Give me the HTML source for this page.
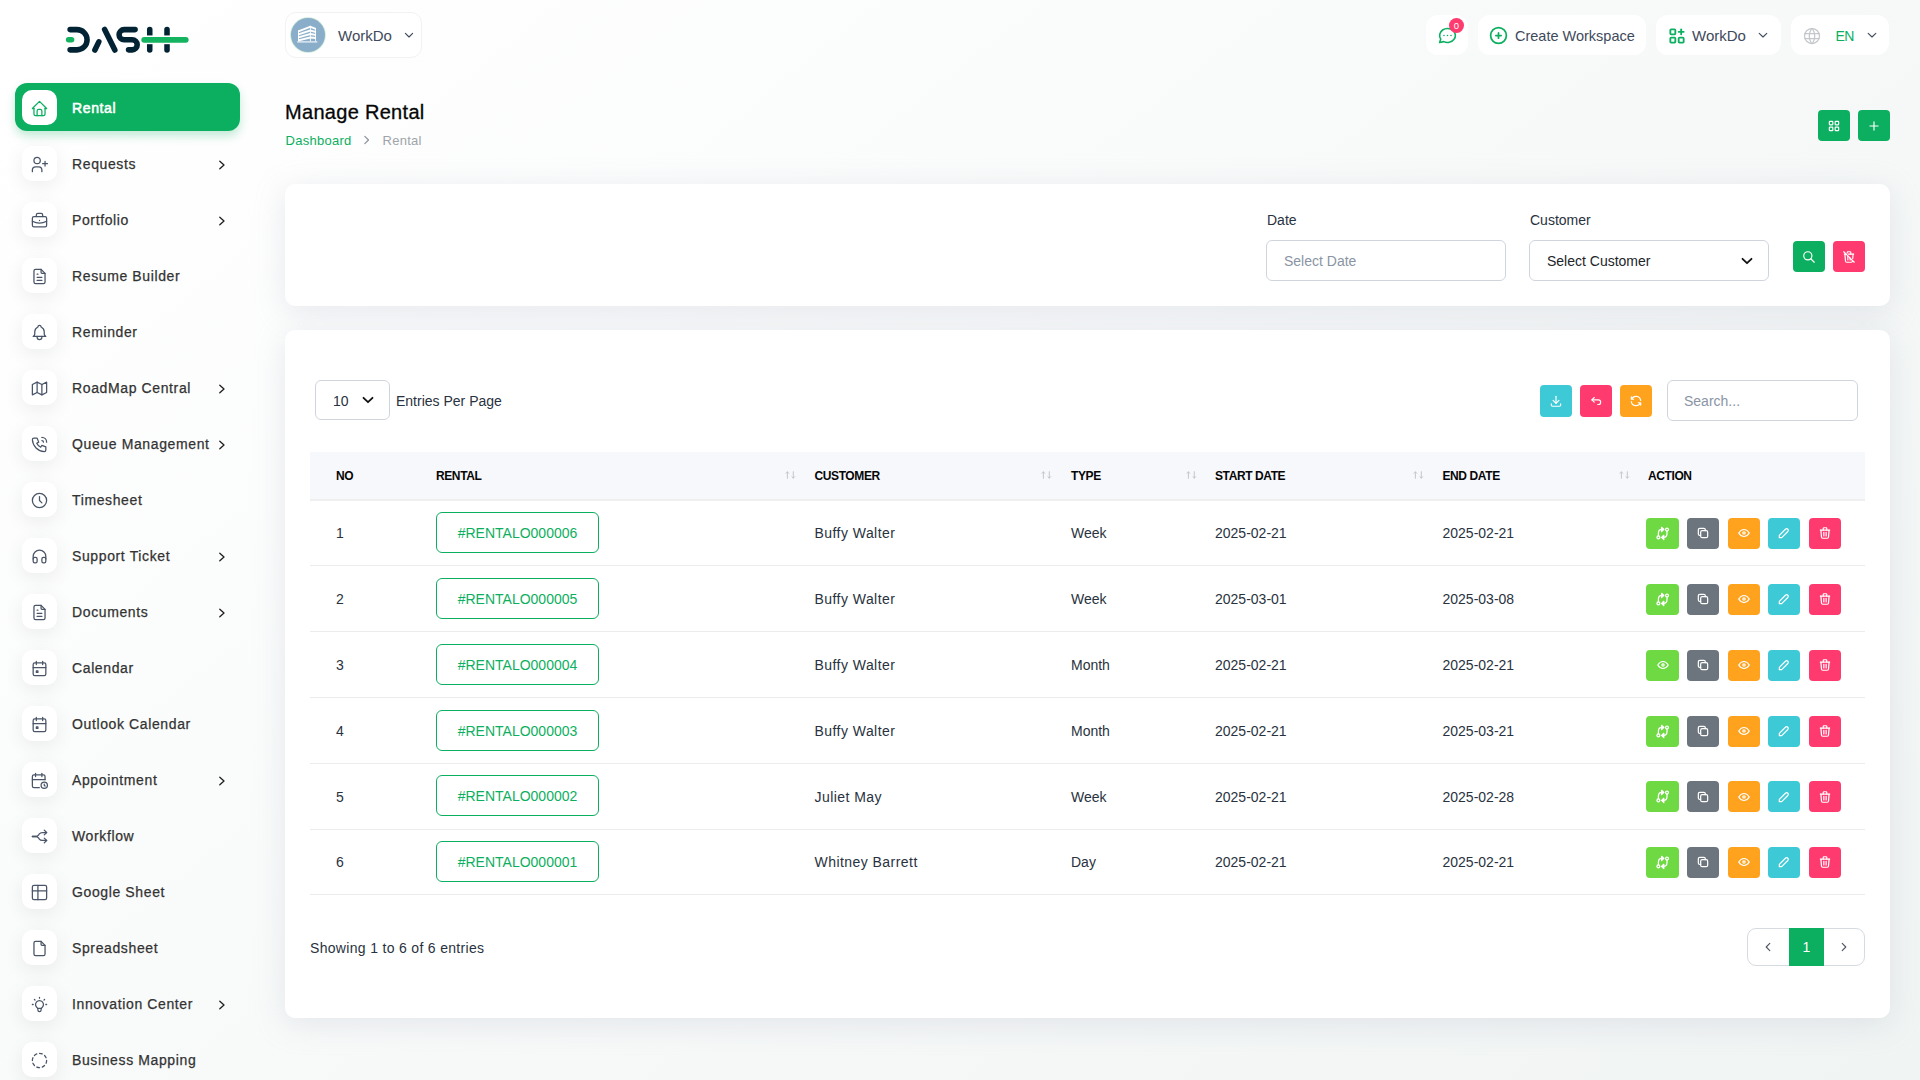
<!DOCTYPE html>
<html><head><meta charset="utf-8">
<style>
*{box-sizing:border-box;margin:0;padding:0}
html,body{width:1920px;height:1080px;overflow:hidden}
body{font-family:"Liberation Sans",sans-serif;position:relative;color:#293240;
background:linear-gradient(141.55deg,rgba(240,244,243,0) 3.46%,#f0f4f3 99.86%),#ffffff;}
.abs{position:absolute}
svg{overflow:visible}
svg.i{fill:none;stroke:currentColor;stroke-linecap:round;stroke-linejoin:round;display:block}
/* sidebar */
.nav{position:absolute;left:15px;width:225px;height:48px;border-radius:12px}
.nav.active{background:#0caf60;box-shadow:0 5px 10px rgba(12,175,96,0.25)}
.nav .ib{position:absolute;left:7px;top:7px;width:35px;height:35px;border-radius:10px;background:#fff;box-shadow:0 5px 20px rgba(0,0,0,0.07);color:#4a5568}
.nav.active .ib{box-shadow:none;color:#0caf60}
.nav .ib svg{position:absolute;left:8px;top:9.2px}
.nav .t{position:absolute;left:57px;top:1px;line-height:48px;font-size:14px;font-weight:400;color:#333;letter-spacing:0.62px;-webkit-text-stroke:0.25px #333;white-space:nowrap}
.nav.active .t{color:#fff;-webkit-text-stroke:0.55px #fff}
.nav .ch{position:absolute;left:201px;top:19px;color:#222}
/* top */
.tb{position:absolute;background:#fff;border-radius:12px;height:40px;top:15px}
.card{position:absolute;background:#fff;border-radius:10px;box-shadow:0 6px 30px rgba(182,186,203,0.3)}
.btn{position:absolute;width:32px;height:31px;border-radius:4px;color:#fff}
.btn svg{position:absolute;left:8px;top:7.5px}
.th{font-size:12px;line-height:12px;font-weight:700;color:#060606;letter-spacing:-0.4px;white-space:nowrap}
.td{font-size:14px;line-height:14px;color:#293240;white-space:nowrap}
.badge{width:163px;height:41px;border:1px solid #0caf60;border-radius:6px;color:#0caf60;font-size:14px;line-height:41px;text-align:center;background:#fff}
</style></head>
<body>
<!-- LOGO -->
<svg class="abs" style="left:60px;top:20px" width="140" height="40" viewBox="0 0 1920 549">
 <g fill="none" stroke-linecap="round" stroke-width="76">
  <path stroke="#022333" d="M138,132 H232 A139,139 0 0 1 232,410 H138"/>
  <path stroke="#022333" d="M532,300 L478,412"/>
  <path stroke="#022333" d="M612,130 L752,412"/>
  <path stroke="#022333" d="M1030,132 H880 A70,70 0 0 0 880,272 H990 A69,69 0 0 1 990,410 H940"/>
  <path stroke="#022333" d="M1231,132 V412 M1468,132 V412"/>
  <rect x="1180" y="212" width="340" height="120" fill="#fff" stroke="none"/>
  <path stroke="#13b35f" stroke-width="80" d="M1155,272 H1725"/>
  <path stroke="#13b35f" d="M118,272 H158"/>
 </g>
</svg>

<!-- SIDEBAR -->
<!--SB-->
<div class="nav active" style="top:83px"><div class="ib"><svg class="i" width="19" height="19" viewBox="0 0 24 24" stroke-width="1.6"><path d="M5 12l-2 0l9 -9l9 9l-2 0"/><path d="M5 12v7a2 2 0 0 0 2 2h10a2 2 0 0 0 2 -2v-7"/><path d="M9 21v-6a2 2 0 0 1 2 -2h2a2 2 0 0 1 2 2v6"/></svg></div><div class="t">Rental</div></div>
<div class="nav" style="top:139px"><div class="ib"><svg class="i" width="19" height="19" viewBox="0 0 24 24" stroke-width="1.6"><path d="M5 7a4 4 0 1 0 8 0a4 4 0 1 0 -8 0"/><path d="M3 21v-2a4 4 0 0 1 4 -4h4a4 4 0 0 1 4 4v2"/><path d="M16 11h6m-3 -3v6"/></svg></div><div class="t">Requests</div><svg class="ch i" width="12" height="14" viewBox="0 0 12 14" stroke-width="1.35"><path d="M3.8 3.2L8 7L3.8 10.8"/></svg></div>
<div class="nav" style="top:195px"><div class="ib"><svg class="i" width="19" height="19" viewBox="0 0 24 24" stroke-width="1.6"><path d="M3 9a2 2 0 0 1 2 -2h14a2 2 0 0 1 2 2v9a2 2 0 0 1 -2 2h-14a2 2 0 0 1 -2 -2z"/><path d="M8 7v-2a2 2 0 0 1 2 -2h4a2 2 0 0 1 2 2v2"/><path d="M12 12l0 .01"/><path d="M3 13a20 20 0 0 0 18 0"/></svg></div><div class="t">Portfolio</div><svg class="ch i" width="12" height="14" viewBox="0 0 12 14" stroke-width="1.35"><path d="M3.8 3.2L8 7L3.8 10.8"/></svg></div>
<div class="nav" style="top:251px"><div class="ib"><svg class="i" width="19" height="19" viewBox="0 0 24 24" stroke-width="1.6"><path d="M14 3v4a1 1 0 0 0 1 1h4"/><path d="M17 21h-10a2 2 0 0 1 -2 -2v-14a2 2 0 0 1 2 -2h7l5 5v11a2 2 0 0 1 -2 2z"/><path d="M9 9l1 0"/><path d="M9 13l6 0"/><path d="M9 17l6 0"/></svg></div><div class="t">Resume Builder</div></div>
<div class="nav" style="top:307px"><div class="ib"><svg class="i" width="19" height="19" viewBox="0 0 24 24" stroke-width="1.6"><path d="M10 5a2 2 0 1 1 4 0a7 7 0 0 1 4 6v3a4 4 0 0 0 2 3h-16a4 4 0 0 0 2 -3v-3a7 7 0 0 1 4 -6"/><path d="M9 17v1a3 3 0 0 0 6 0v-1"/></svg></div><div class="t">Reminder</div></div>
<div class="nav" style="top:363px"><div class="ib"><svg class="i" width="19" height="19" viewBox="0 0 24 24" stroke-width="1.6"><path d="M3 7l6 -3l6 3l6 -3v13l-6 3l-6 -3l-6 3v-13"/><path d="M9 4v13"/><path d="M15 7v13"/></svg></div><div class="t">RoadMap Central</div><svg class="ch i" width="12" height="14" viewBox="0 0 12 14" stroke-width="1.35"><path d="M3.8 3.2L8 7L3.8 10.8"/></svg></div>
<div class="nav" style="top:419px"><div class="ib"><svg class="i" width="19" height="19" viewBox="0 0 24 24" stroke-width="1.6"><path d="M5 4h4l2 5l-2.5 1.5a11 11 0 0 0 5 5l1.5 -2.5l5 2v4a2 2 0 0 1 -2 2a16 16 0 0 1 -15 -15a2 2 0 0 1 2 -2"/><path d="M15 7a2 2 0 0 1 2 2"/><path d="M15 3a6 6 0 0 1 6 6"/></svg></div><div class="t">Queue Management</div><svg class="ch i" width="12" height="14" viewBox="0 0 12 14" stroke-width="1.35"><path d="M3.8 3.2L8 7L3.8 10.8"/></svg></div>
<div class="nav" style="top:475px"><div class="ib"><svg class="i" width="19" height="19" viewBox="0 0 24 24" stroke-width="1.6"><path d="M3 12a9 9 0 1 0 18 0a9 9 0 0 0 -18 0"/><path d="M12 7v5l3 3"/></svg></div><div class="t">Timesheet</div></div>
<div class="nav" style="top:531px"><div class="ib"><svg class="i" width="19" height="19" viewBox="0 0 24 24" stroke-width="1.6"><path d="M4 15a2 2 0 0 1 2 -2h1a2 2 0 0 1 2 2v3a2 2 0 0 1 -2 2h-1a2 2 0 0 1 -2 -2z"/><path d="M15 15a2 2 0 0 1 2 -2h1a2 2 0 0 1 2 2v3a2 2 0 0 1 -2 2h-1a2 2 0 0 1 -2 -2z"/><path d="M4 15v-3a8 8 0 0 1 16 0v3"/></svg></div><div class="t">Support Ticket</div><svg class="ch i" width="12" height="14" viewBox="0 0 12 14" stroke-width="1.35"><path d="M3.8 3.2L8 7L3.8 10.8"/></svg></div>
<div class="nav" style="top:587px"><div class="ib"><svg class="i" width="19" height="19" viewBox="0 0 24 24" stroke-width="1.6"><path d="M14 3v4a1 1 0 0 0 1 1h4"/><path d="M17 21h-10a2 2 0 0 1 -2 -2v-14a2 2 0 0 1 2 -2h7l5 5v11a2 2 0 0 1 -2 2z"/><path d="M9 9l1 0"/><path d="M9 13l6 0"/><path d="M9 17l6 0"/></svg></div><div class="t">Documents</div><svg class="ch i" width="12" height="14" viewBox="0 0 12 14" stroke-width="1.35"><path d="M3.8 3.2L8 7L3.8 10.8"/></svg></div>
<div class="nav" style="top:643px"><div class="ib"><svg class="i" width="19" height="19" viewBox="0 0 24 24" stroke-width="1.6"><path d="M4 7a2 2 0 0 1 2 -2h12a2 2 0 0 1 2 2v12a2 2 0 0 1 -2 2h-12a2 2 0 0 1 -2 -2z"/><path d="M16 3l0 4"/><path d="M8 3l0 4"/><path d="M4 11l16 0"/><path d="M8 15h2v2h-2z"/></svg></div><div class="t">Calendar</div></div>
<div class="nav" style="top:699px"><div class="ib"><svg class="i" width="19" height="19" viewBox="0 0 24 24" stroke-width="1.6"><path d="M4 7a2 2 0 0 1 2 -2h12a2 2 0 0 1 2 2v12a2 2 0 0 1 -2 2h-12a2 2 0 0 1 -2 -2z"/><path d="M16 3l0 4"/><path d="M8 3l0 4"/><path d="M4 11l16 0"/><path d="M8 15h2v2h-2z"/></svg></div><div class="t">Outlook Calendar</div></div>
<div class="nav" style="top:755px"><div class="ib"><svg class="i" width="19" height="19" viewBox="0 0 24 24" stroke-width="1.6"><path d="M11.795 21h-6.795a2 2 0 0 1 -2 -2v-12a2 2 0 0 1 2 -2h12a2 2 0 0 1 2 2v4"/><path d="M14 18a4 4 0 1 0 8 0a4 4 0 1 0 -8 0"/><path d="M15 3v4"/><path d="M7 3v4"/><path d="M3 11h16"/><path d="M18 16.496v1.504l1 1"/></svg></div><div class="t">Appointment</div><svg class="ch i" width="12" height="14" viewBox="0 0 12 14" stroke-width="1.35"><path d="M3.8 3.2L8 7L3.8 10.8"/></svg></div>
<div class="nav" style="top:811px"><div class="ib"><svg class="i" width="19" height="19" viewBox="0 0 24 24" stroke-width="1.6"><path d="M21 17h-5.397a5 5 0 0 1 -4.096 -2.133l-.514 -.734a5 5 0 0 0 -4.096 -2.133h-3.897"/><path d="M21 7h-5.395a5 5 0 0 0 -4.098 2.135l-.51 .73a5 5 0 0 1 -4.097 2.135h-3.9"/><path d="M18 10l3 -3l-3 -3"/><path d="M18 20l3 -3l-3 -3"/></svg></div><div class="t">Workflow</div></div>
<div class="nav" style="top:867px"><div class="ib"><svg class="i" width="19" height="19" viewBox="0 0 24 24" stroke-width="1.6"><path d="M3 5a2 2 0 0 1 2 -2h14a2 2 0 0 1 2 2v14a2 2 0 0 1 -2 2h-14a2 2 0 0 1 -2 -2v-14z"/><path d="M3 10h18"/><path d="M10 3v18"/></svg></div><div class="t">Google Sheet</div></div>
<div class="nav" style="top:923px"><div class="ib"><svg class="i" width="19" height="19" viewBox="0 0 24 24" stroke-width="1.6"><path d="M14 3v4a1 1 0 0 0 1 1h4"/><path d="M17 21h-10a2 2 0 0 1 -2 -2v-14a2 2 0 0 1 2 -2h7l5 5v11a2 2 0 0 1 -2 2z"/></svg></div><div class="t">Spreadsheet</div></div>
<div class="nav" style="top:979px"><div class="ib"><svg class="i" width="19" height="19" viewBox="0 0 24 24" stroke-width="1.6"><path d="M3 12h1m8 -9v1m8 8h1m-15.4 -6.4l.7 .7m12.1 -.7l-.7 .7"/><path d="M9 16a5 5 0 1 1 6 0a3.5 3.5 0 0 0 -1 3a2 2 0 0 1 -4 0a3.5 3.5 0 0 0 -1 -3"/><path d="M9.7 17l4.6 0"/></svg></div><div class="t">Innovation Center</div><svg class="ch i" width="12" height="14" viewBox="0 0 12 14" stroke-width="1.35"><path d="M3.8 3.2L8 7L3.8 10.8"/></svg></div>
<div class="nav" style="top:1035px"><div class="ib"><svg class="i" width="19" height="19" viewBox="0 0 24 24" stroke-width="1.6"><path d="M8.56 3.69a9 9 0 0 0 -2.92 1.95"/><path d="M3.69 8.56a9 9 0 0 0 -.69 3.44"/><path d="M3.69 15.44a9 9 0 0 0 1.95 2.92"/><path d="M8.56 20.31a9 9 0 0 0 3.44 .69"/><path d="M15.44 20.31a9 9 0 0 0 2.92 -1.95"/><path d="M20.31 15.44a9 9 0 0 0 .69 -3.44"/><path d="M20.31 8.56a9 9 0 0 0 -1.95 -2.92"/><path d="M15.44 3.69a9 9 0 0 0 -3.44 -.69"/></svg></div><div class="t">Business Mapping</div></div>
<!--/SB-->

<!-- TOP BAR -->
<div class="abs" style="left:285px;top:12px;width:137px;height:46px;background:#fff;border:1px solid #f1f2f3;border-radius:11px"></div>
<div class="abs" style="left:291px;top:18px;width:34px;height:34px;border-radius:50%;background:#8aaec9;box-shadow:0 0 0 0.8px #c9ead7"></div>
<svg class="abs" style="left:296px;top:24px" width="24" height="20" viewBox="0 0 24 20"><g fill="#fff"><path d="M2 6.5 L14.3 1.8 L14.3 3.8 L2 8.5Z"/><path d="M14.3 1.8 L20 4.1 L20 6.1 L14.3 3.8Z"/><path d="M2 9.5 L14.3 5.4 L14.3 7.4 L2 11.5Z"/><path d="M14.3 5.4 L20 7.1 L20 9.1 L14.3 7.4Z"/><path d="M2 12.5 L14.3 9.0 L14.3 11.0 L2 14.5Z"/><path d="M14.3 9.0 L20 10.1 L20 12.1 L14.3 11.0Z"/><path d="M2 15.5 L14.3 12.6 L14.3 14.6 L2 17.5Z"/><path d="M14.3 12.6 L20 13.1 L20 15.1 L14.3 14.6Z"/><rect x="13.9" y="1.8" width="0.9" height="15.4"/><rect x="2" y="6.5" width="0.9" height="10.7"/><rect x="19.2" y="4.1" width="0.8" height="13.1"/><rect x="1.2" y="17.2" width="20.1" height="1.4" opacity=".75"/></g></svg>
<div class="abs" style="left:338px;top:27px;font-size:15px;line-height:18px;color:#3e4a5b">WorkDo</div>
<svg class="abs i" style="left:403px;top:29px;color:#3e4a5b" width="12" height="12" viewBox="0 0 12 12" stroke-width="1.15"><path d="M2.4 4.3L6 8L9.6 4.3"/></svg>

<div class="tb" style="left:1426px;width:42px"></div>
<svg class="abs i" style="left:1436.5px;top:25px;color:#0caf60" width="21" height="21" viewBox="0 0 24 24" stroke-width="1.8"><path d="M3 20l1.3 -3.9c-2.324 -3.437 -1.426 -7.872 2.1 -10.374c3.526 -2.501 8.59 -2.296 11.845 .48c3.255 2.777 3.695 7.266 1.029 10.501c-2.666 3.235 -7.615 4.215 -11.574 2.293l-4.7 1"/><path d="M12 12l0 .01"/><path d="M8 12l0 .01"/><path d="M16 12l0 .01"/></svg>
<div class="abs" style="left:1449px;top:17.5px;width:15px;height:15px;border-radius:50%;background:#ff3a6e;color:#fff;font-size:9.5px;line-height:15px;text-align:center">0</div>

<div class="tb" style="left:1478px;width:168px"></div>
<svg class="abs i" style="left:1488px;top:25px;color:#0caf60" width="21" height="21" viewBox="0 0 24 24" stroke-width="2"><path d="M3 12a9 9 0 1 0 18 0a9 9 0 0 0 -18 0"/><path d="M9 12h6"/><path d="M12 9v6"/></svg>
<div class="abs" style="left:1515px;top:27.3px;font-size:14.5px;line-height:18px;color:#3e4a5b">Create Workspace</div>

<div class="tb" style="left:1656px;width:125px"></div>
<svg class="abs i" style="left:1667px;top:26px;color:#0caf60" width="20" height="20" viewBox="0 0 24 24" stroke-width="2.2"><path d="M4 5a1 1 0 0 1 1 -1h4a1 1 0 0 1 1 1v4a1 1 0 0 1 -1 1h-4a1 1 0 0 1 -1 -1z"/><path d="M4 15a1 1 0 0 1 1 -1h4a1 1 0 0 1 1 1v4a1 1 0 0 1 -1 1h-4a1 1 0 0 1 -1 -1z"/><path d="M14 15a1 1 0 0 1 1 -1h4a1 1 0 0 1 1 1v4a1 1 0 0 1 -1 1h-4a1 1 0 0 1 -1 -1z"/><path d="M14 7l6 0"/><path d="M17 4l0 6"/></svg>
<div class="abs" style="left:1692px;top:27px;font-size:15px;line-height:18px;color:#3e4a5b">WorkDo</div>
<svg class="abs i" style="left:1757px;top:29px;color:#3e4a5b" width="12" height="12" viewBox="0 0 12 12" stroke-width="1.1"><path d="M2.2 4.3L6 8L9.8 4.3"/></svg>

<div class="tb" style="left:1791px;width:98px"></div>
<svg class="abs i" style="left:1802px;top:25.5px;color:#c4c7cc" width="20" height="20" viewBox="0 0 24 24" stroke-width="1.5"><path d="M3 12a9 9 0 1 0 18 0a9 9 0 0 0 -18 0"/><path d="M3.6 9h16.8"/><path d="M3.6 15h16.8"/><path d="M11.5 3a17 17 0 0 0 0 18"/><path d="M12.5 3a17 17 0 0 1 0 18"/></svg>
<div class="abs" style="left:1835.5px;top:26.8px;font-size:14px;line-height:18px;color:#0caf60;letter-spacing:-0.6px">EN</div>
<svg class="abs i" style="left:1865.5px;top:29px;color:#3e4a5b" width="12" height="12" viewBox="0 0 12 12" stroke-width="1.1"><path d="M2.2 4.3L6 8L9.8 4.3"/></svg>

<!-- PAGE HEADER -->
<div class="abs" style="left:285px;top:101.8px;font-size:20px;line-height:20px;color:#060606;letter-spacing:0.3px;-webkit-text-stroke:0.3px #060606;white-space:nowrap">Manage Rental</div>
<div class="abs" style="left:285.5px;top:133.6px;font-size:13px;line-height:13px;color:#0caf60;letter-spacing:0.27px">Dashboard</div>
<svg class="abs i" style="left:361px;top:134px;color:#8a929c" width="12" height="12" viewBox="0 0 12 12" stroke-width="1.2"><path d="M3.8 2.3L7.5 6L3.8 9.7"/></svg>
<div class="abs" style="left:382.5px;top:133.6px;font-size:13px;line-height:13px;color:#a0a4aa;letter-spacing:0.27px">Rental</div>
<div class="btn" style="left:1818px;top:110px;background:#0caf60"><svg class="i" style="left:9px;top:8.5px" width="14" height="14" viewBox="0 0 24 24" stroke-width="2"><path d="M4 5a1 1 0 0 1 1 -1h4a1 1 0 0 1 1 1v4a1 1 0 0 1 -1 1h-4a1 1 0 0 1 -1 -1z"/><path d="M14 5a1 1 0 0 1 1 -1h4a1 1 0 0 1 1 1v4a1 1 0 0 1 -1 1h-4a1 1 0 0 1 -1 -1z"/><path d="M4 15a1 1 0 0 1 1 -1h4a1 1 0 0 1 1 1v4a1 1 0 0 1 -1 1h-4a1 1 0 0 1 -1 -1z"/><path d="M14 15a1 1 0 0 1 1 -1h4a1 1 0 0 1 1 1v4a1 1 0 0 1 -1 1h-4a1 1 0 0 1 -1 -1z"/></svg></div>
<div class="btn" style="left:1858px;top:110px;background:#0caf60"><svg class="i" style="left:9px;top:8.5px" width="14" height="14" viewBox="0 0 24 24" stroke-width="2"><path d="M12 5l0 14"/><path d="M5 12l14 0"/></svg></div>

<!-- FILTER CARD -->
<div class="card" style="left:285px;top:184px;width:1605px;height:122px"></div>
<div class="abs" style="left:1267px;top:212.8px;font-size:14px;line-height:14px;color:#293240">Date</div>
<div class="abs" style="left:1266px;top:240px;width:240px;height:41px;border:1px solid #d0d5dd;border-radius:6px;background:#fff"></div>
<div class="abs" style="left:1284px;top:254.2px;font-size:14px;line-height:14px;color:#8a94a4">Select Date</div>
<div class="abs" style="left:1530px;top:212.8px;font-size:14px;line-height:14px;color:#293240">Customer</div>
<div class="abs" style="left:1529px;top:240px;width:240px;height:41px;border:1px solid #d0d5dd;border-radius:6px;background:#fff"></div>
<div class="abs" style="left:1547px;top:254.2px;font-size:14px;line-height:14px;color:#212529">Select Customer</div>
<svg class="abs i" style="left:1740px;top:254px;color:#111" width="14" height="14" viewBox="0 0 14 14" stroke-width="1.8"><path d="M2.5 4.8L7 9.2L11.5 4.8"/></svg>
<div class="btn" style="left:1793px;top:241px;background:#0caf60"><svg class="i" style="left:9px;top:8.5px" width="14" height="14" viewBox="0 0 24 24" stroke-width="2"><path d="M3 10a7 7 0 1 0 14 0a7 7 0 1 0 -14 0"/><path d="M21 21l-6 -6"/></svg></div>
<div class="btn" style="left:1833px;top:241px;background:#ff3a6e"><svg class="i" style="left:9px;top:8.5px" width="14" height="14" viewBox="0 0 24 24" stroke-width="2"><path d="M3 3l18 18"/><path d="M4 7h3m4 0h9"/><path d="M10 11l0 6"/><path d="M14 14l0 3"/><path d="M5 7l1 12a2 2 0 0 0 2 2h8a2 2 0 0 0 2 -2l.077 -.923"/><path d="M18.384 14.373l.616 -7.373"/><path d="M9 5v-1a1 1 0 0 1 1 -1h4a1 1 0 0 1 1 1v3"/></svg></div>

<!-- MAIN CARD -->
<!--MAIN-->
<div class="card" style="left:285px;top:330px;width:1605px;height:688px"></div>
<div class="abs" style="left:315px;top:380px;width:75px;height:40px;border:1px solid #d0d5dd;border-radius:6px;background:#fff"></div>
<div class="abs" style="left:333px;top:394.2px;font-size:14px;line-height:14px;color:#293240">10</div>
<svg class="abs i" style="left:361px;top:393px;color:#111" width="14" height="14" viewBox="0 0 14 14" stroke-width="1.8"><path d="M2.5 4.8L7 9.2L11.5 4.8"/></svg>
<div class="abs" style="left:396px;top:394.2px;font-size:14px;line-height:14px;color:#293240">Entries Per Page</div>
<div class="btn" style="left:1540px;top:385px;height:32px;background:#3ec9d6"><svg class="i" style="left:9px;top:9px" width="14" height="14" viewBox="0 0 24 24" stroke-width="2"><path d="M4 17v2a2 2 0 0 0 2 2h12a2 2 0 0 0 2 -2v-2"/><path d="M7 11l5 5l5 -5"/><path d="M12 4l0 12"/></svg></div>
<div class="btn" style="left:1580px;top:385px;height:32px;background:#ff3a6e"><svg class="i" style="left:9px;top:9px" width="14" height="14" viewBox="0 0 24 24" stroke-width="2"><path d="M9 14l-4 -4l4 -4"/><path d="M5 10h11a4 4 0 1 1 0 8h-1"/></svg></div>
<div class="btn" style="left:1620px;top:385px;height:32px;background:#ffa21d"><svg class="i" style="left:9px;top:9px" width="14" height="14" viewBox="0 0 24 24" stroke-width="2"><path d="M20 11a8.1 8.1 0 0 0 -15.5 -2m-.5 -4v4h4"/><path d="M4 13a8.1 8.1 0 0 0 15.5 2m.5 4v-4h-4"/></svg></div>
<div class="abs" style="left:1667px;top:380px;width:191px;height:41px;border:1px solid #d0d5dd;border-radius:6px;background:#fff"></div>
<div class="abs" style="left:1684px;top:394.2px;font-size:14px;line-height:14px;color:#8a94a4">Search...</div>
<div class="abs" style="left:310px;top:452px;width:1555px;height:49px;background:#f7f8fc;border-bottom:2px solid #efefef"></div>
<div class="abs th" style="left:336px;top:470.3px">NO</div>
<div class="abs th" style="left:436px;top:470.3px">RENTAL</div>
<svg class="abs i" style="left:785.5px;top:470.5px;color:#c2c6cb" width="11" height="9" viewBox="0 0 11 9" stroke-width="1"><path d="M1.4 7.3V0.9M0 2.3L1.4 0.9L2.8 2.3" /><path d="M7.3 0.7V7.1M5.9 5.7L7.3 7.1L8.7 5.7"/></svg>
<div class="abs th" style="left:814.5px;top:470.3px">CUSTOMER</div>
<svg class="abs i" style="left:1042px;top:470.5px;color:#c2c6cb" width="11" height="9" viewBox="0 0 11 9" stroke-width="1"><path d="M1.4 7.3V0.9M0 2.3L1.4 0.9L2.8 2.3" /><path d="M7.3 0.7V7.1M5.9 5.7L7.3 7.1L8.7 5.7"/></svg>
<div class="abs th" style="left:1071px;top:470.3px">TYPE</div>
<svg class="abs i" style="left:1187px;top:470.5px;color:#c2c6cb" width="11" height="9" viewBox="0 0 11 9" stroke-width="1"><path d="M1.4 7.3V0.9M0 2.3L1.4 0.9L2.8 2.3" /><path d="M7.3 0.7V7.1M5.9 5.7L7.3 7.1L8.7 5.7"/></svg>
<div class="abs th" style="left:1215px;top:470.3px">START DATE</div>
<svg class="abs i" style="left:1414px;top:470.5px;color:#c2c6cb" width="11" height="9" viewBox="0 0 11 9" stroke-width="1"><path d="M1.4 7.3V0.9M0 2.3L1.4 0.9L2.8 2.3" /><path d="M7.3 0.7V7.1M5.9 5.7L7.3 7.1L8.7 5.7"/></svg>
<div class="abs th" style="left:1442.5px;top:470.3px">END DATE</div>
<svg class="abs i" style="left:1620px;top:470.5px;color:#c2c6cb" width="11" height="9" viewBox="0 0 11 9" stroke-width="1"><path d="M1.4 7.3V0.9M0 2.3L1.4 0.9L2.8 2.3" /><path d="M7.3 0.7V7.1M5.9 5.7L7.3 7.1L8.7 5.7"/></svg>
<div class="abs th" style="left:1648px;top:470.3px">ACTION</div>
<div class="abs td" style="left:336px;top:526.2px">1</div>
<div class="abs badge" style="left:436px;top:512px">#RENTALO000006</div>
<div class="abs td" style="left:814.5px;top:526.2px;letter-spacing:0.45px">Buffy Walter</div>
<div class="abs td" style="left:1071px;top:526.2px">Week</div>
<div class="abs td" style="left:1215px;top:526.2px">2025-02-21</div>
<div class="abs td" style="left:1442.5px;top:526.2px">2025-02-21</div>
<div class="btn" style="left:1646px;top:518px;width:33px;background:#6fd943"><svg class="i" style="left:0;top:0" width="33" height="31" viewBox="0 0 33 31" stroke-width="1.25"><circle cx="12.4" cy="19.4" r="1.45"/><circle cx="21" cy="11.6" r="1.45"/><path d="M12.4 17.9V15.2Q12.4 11.4 16 11.4"/><path d="M21 13.1V15.8Q21 19.4 17.4 19.4"/><path d="M15.6 9.3L17.9 11.4L15.6 13.5Z" fill="#fff"/><path d="M17.8 17.3L15.5 19.4L17.8 21.5Z" fill="#fff"/></svg></div>
<div class="btn" style="left:1687px;top:518px;width:32px;background:#6c757d"><svg class="i" style="left:9.3px;top:8.2px" width="14" height="14" viewBox="0 0 24 24" stroke-width="2.1"><path d="M8 10.5a2.5 2.5 0 0 1 2.5 -2.5h7a2.5 2.5 0 0 1 2.5 2.5v7a2.5 2.5 0 0 1 -2.5 2.5h-7a2.5 2.5 0 0 1 -2.5 -2.5z"/><path d="M16 8v-1.5a2.5 2.5 0 0 0 -2.5 -2.5h-7a2.5 2.5 0 0 0 -2.5 2.5v7a2.5 2.5 0 0 0 2.5 2.5h1.5"/></svg></div>
<div class="btn" style="left:1728px;top:518px;width:32px;background:#ffa21d"><svg class="i" style="left:9.3px;top:8.2px" width="14" height="14" viewBox="0 0 24 24" stroke-width="2.1"><path d="M10 12a2 2 0 1 0 4 0a2 2 0 0 0 -4 0"/><path d="M21 12c-2.4 4 -5.4 6 -9 6c-3.6 0 -6.6 -2 -9 -6c2.4 -4 5.4 -6 9 -6c3.6 0 6.6 2 9 6"/></svg></div>
<div class="btn" style="left:1768px;top:518px;width:32px;background:#3ec9d6"><svg class="i" style="left:9.3px;top:8.2px" width="14" height="14" viewBox="0 0 24 24" stroke-width="2.1"><path d="M4 20h4l10.5 -10.5a2.828 2.828 0 1 0 -4 -4l-10.5 10.5v4"/></svg></div>
<div class="btn" style="left:1809px;top:518px;width:32px;background:#ff3a6e"><svg class="i" style="left:9.3px;top:8.2px" width="14" height="14" viewBox="0 0 24 24" stroke-width="2.1"><path d="M4 7l16 0"/><path d="M10 11l0 6"/><path d="M14 11l0 6"/><path d="M5 7l1 12a2 2 0 0 0 2 2h8a2 2 0 0 0 2 -2l1 -12"/><path d="M9 7v-3a1 1 0 0 1 1 -1h4a1 1 0 0 1 1 1v3"/></svg></div>
<div class="abs" style="left:310px;top:565px;width:1555px;height:1px;background:#ececec"></div>
<div class="abs td" style="left:336px;top:592.0500000000001px">2</div>
<div class="abs badge" style="left:436px;top:577.85px">#RENTALO000005</div>
<div class="abs td" style="left:814.5px;top:592.0500000000001px;letter-spacing:0.45px">Buffy Walter</div>
<div class="abs td" style="left:1071px;top:592.0500000000001px">Week</div>
<div class="abs td" style="left:1215px;top:592.0500000000001px">2025-03-01</div>
<div class="abs td" style="left:1442.5px;top:592.0500000000001px">2025-03-08</div>
<div class="btn" style="left:1646px;top:583.85px;width:33px;background:#6fd943"><svg class="i" style="left:0;top:0" width="33" height="31" viewBox="0 0 33 31" stroke-width="1.25"><circle cx="12.4" cy="19.4" r="1.45"/><circle cx="21" cy="11.6" r="1.45"/><path d="M12.4 17.9V15.2Q12.4 11.4 16 11.4"/><path d="M21 13.1V15.8Q21 19.4 17.4 19.4"/><path d="M15.6 9.3L17.9 11.4L15.6 13.5Z" fill="#fff"/><path d="M17.8 17.3L15.5 19.4L17.8 21.5Z" fill="#fff"/></svg></div>
<div class="btn" style="left:1687px;top:583.85px;width:32px;background:#6c757d"><svg class="i" style="left:9.3px;top:8.2px" width="14" height="14" viewBox="0 0 24 24" stroke-width="2.1"><path d="M8 10.5a2.5 2.5 0 0 1 2.5 -2.5h7a2.5 2.5 0 0 1 2.5 2.5v7a2.5 2.5 0 0 1 -2.5 2.5h-7a2.5 2.5 0 0 1 -2.5 -2.5z"/><path d="M16 8v-1.5a2.5 2.5 0 0 0 -2.5 -2.5h-7a2.5 2.5 0 0 0 -2.5 2.5v7a2.5 2.5 0 0 0 2.5 2.5h1.5"/></svg></div>
<div class="btn" style="left:1728px;top:583.85px;width:32px;background:#ffa21d"><svg class="i" style="left:9.3px;top:8.2px" width="14" height="14" viewBox="0 0 24 24" stroke-width="2.1"><path d="M10 12a2 2 0 1 0 4 0a2 2 0 0 0 -4 0"/><path d="M21 12c-2.4 4 -5.4 6 -9 6c-3.6 0 -6.6 -2 -9 -6c2.4 -4 5.4 -6 9 -6c3.6 0 6.6 2 9 6"/></svg></div>
<div class="btn" style="left:1768px;top:583.85px;width:32px;background:#3ec9d6"><svg class="i" style="left:9.3px;top:8.2px" width="14" height="14" viewBox="0 0 24 24" stroke-width="2.1"><path d="M4 20h4l10.5 -10.5a2.828 2.828 0 1 0 -4 -4l-10.5 10.5v4"/></svg></div>
<div class="btn" style="left:1809px;top:583.85px;width:32px;background:#ff3a6e"><svg class="i" style="left:9.3px;top:8.2px" width="14" height="14" viewBox="0 0 24 24" stroke-width="2.1"><path d="M4 7l16 0"/><path d="M10 11l0 6"/><path d="M14 11l0 6"/><path d="M5 7l1 12a2 2 0 0 0 2 2h8a2 2 0 0 0 2 -2l1 -12"/><path d="M9 7v-3a1 1 0 0 1 1 -1h4a1 1 0 0 1 1 1v3"/></svg></div>
<div class="abs" style="left:310px;top:631px;width:1555px;height:1px;background:#ececec"></div>
<div class="abs td" style="left:336px;top:657.9000000000001px">3</div>
<div class="abs badge" style="left:436px;top:643.7px">#RENTALO000004</div>
<div class="abs td" style="left:814.5px;top:657.9000000000001px;letter-spacing:0.45px">Buffy Walter</div>
<div class="abs td" style="left:1071px;top:657.9000000000001px">Month</div>
<div class="abs td" style="left:1215px;top:657.9000000000001px">2025-02-21</div>
<div class="abs td" style="left:1442.5px;top:657.9000000000001px">2025-02-21</div>
<div class="btn" style="left:1646px;top:649.7px;width:33px;background:#6fd943"><svg class="i" style="left:9.8px;top:8.2px" width="14" height="14" viewBox="0 0 24 24" stroke-width="2"><path d="M10 12a2 2 0 1 0 4 0a2 2 0 0 0 -4 0"/><path d="M21 12c-2.4 4 -5.4 6 -9 6c-3.6 0 -6.6 -2 -9 -6c2.4 -4 5.4 -6 9 -6c3.6 0 6.6 2 9 6"/></svg></div>
<div class="btn" style="left:1687px;top:649.7px;width:32px;background:#6c757d"><svg class="i" style="left:9.3px;top:8.2px" width="14" height="14" viewBox="0 0 24 24" stroke-width="2.1"><path d="M8 10.5a2.5 2.5 0 0 1 2.5 -2.5h7a2.5 2.5 0 0 1 2.5 2.5v7a2.5 2.5 0 0 1 -2.5 2.5h-7a2.5 2.5 0 0 1 -2.5 -2.5z"/><path d="M16 8v-1.5a2.5 2.5 0 0 0 -2.5 -2.5h-7a2.5 2.5 0 0 0 -2.5 2.5v7a2.5 2.5 0 0 0 2.5 2.5h1.5"/></svg></div>
<div class="btn" style="left:1728px;top:649.7px;width:32px;background:#ffa21d"><svg class="i" style="left:9.3px;top:8.2px" width="14" height="14" viewBox="0 0 24 24" stroke-width="2.1"><path d="M10 12a2 2 0 1 0 4 0a2 2 0 0 0 -4 0"/><path d="M21 12c-2.4 4 -5.4 6 -9 6c-3.6 0 -6.6 -2 -9 -6c2.4 -4 5.4 -6 9 -6c3.6 0 6.6 2 9 6"/></svg></div>
<div class="btn" style="left:1768px;top:649.7px;width:32px;background:#3ec9d6"><svg class="i" style="left:9.3px;top:8.2px" width="14" height="14" viewBox="0 0 24 24" stroke-width="2.1"><path d="M4 20h4l10.5 -10.5a2.828 2.828 0 1 0 -4 -4l-10.5 10.5v4"/></svg></div>
<div class="btn" style="left:1809px;top:649.7px;width:32px;background:#ff3a6e"><svg class="i" style="left:9.3px;top:8.2px" width="14" height="14" viewBox="0 0 24 24" stroke-width="2.1"><path d="M4 7l16 0"/><path d="M10 11l0 6"/><path d="M14 11l0 6"/><path d="M5 7l1 12a2 2 0 0 0 2 2h8a2 2 0 0 0 2 -2l1 -12"/><path d="M9 7v-3a1 1 0 0 1 1 -1h4a1 1 0 0 1 1 1v3"/></svg></div>
<div class="abs" style="left:310px;top:697px;width:1555px;height:1px;background:#ececec"></div>
<div class="abs td" style="left:336px;top:723.75px">4</div>
<div class="abs badge" style="left:436px;top:709.55px">#RENTALO000003</div>
<div class="abs td" style="left:814.5px;top:723.75px;letter-spacing:0.45px">Buffy Walter</div>
<div class="abs td" style="left:1071px;top:723.75px">Month</div>
<div class="abs td" style="left:1215px;top:723.75px">2025-02-21</div>
<div class="abs td" style="left:1442.5px;top:723.75px">2025-03-21</div>
<div class="btn" style="left:1646px;top:715.55px;width:33px;background:#6fd943"><svg class="i" style="left:0;top:0" width="33" height="31" viewBox="0 0 33 31" stroke-width="1.25"><circle cx="12.4" cy="19.4" r="1.45"/><circle cx="21" cy="11.6" r="1.45"/><path d="M12.4 17.9V15.2Q12.4 11.4 16 11.4"/><path d="M21 13.1V15.8Q21 19.4 17.4 19.4"/><path d="M15.6 9.3L17.9 11.4L15.6 13.5Z" fill="#fff"/><path d="M17.8 17.3L15.5 19.4L17.8 21.5Z" fill="#fff"/></svg></div>
<div class="btn" style="left:1687px;top:715.55px;width:32px;background:#6c757d"><svg class="i" style="left:9.3px;top:8.2px" width="14" height="14" viewBox="0 0 24 24" stroke-width="2.1"><path d="M8 10.5a2.5 2.5 0 0 1 2.5 -2.5h7a2.5 2.5 0 0 1 2.5 2.5v7a2.5 2.5 0 0 1 -2.5 2.5h-7a2.5 2.5 0 0 1 -2.5 -2.5z"/><path d="M16 8v-1.5a2.5 2.5 0 0 0 -2.5 -2.5h-7a2.5 2.5 0 0 0 -2.5 2.5v7a2.5 2.5 0 0 0 2.5 2.5h1.5"/></svg></div>
<div class="btn" style="left:1728px;top:715.55px;width:32px;background:#ffa21d"><svg class="i" style="left:9.3px;top:8.2px" width="14" height="14" viewBox="0 0 24 24" stroke-width="2.1"><path d="M10 12a2 2 0 1 0 4 0a2 2 0 0 0 -4 0"/><path d="M21 12c-2.4 4 -5.4 6 -9 6c-3.6 0 -6.6 -2 -9 -6c2.4 -4 5.4 -6 9 -6c3.6 0 6.6 2 9 6"/></svg></div>
<div class="btn" style="left:1768px;top:715.55px;width:32px;background:#3ec9d6"><svg class="i" style="left:9.3px;top:8.2px" width="14" height="14" viewBox="0 0 24 24" stroke-width="2.1"><path d="M4 20h4l10.5 -10.5a2.828 2.828 0 1 0 -4 -4l-10.5 10.5v4"/></svg></div>
<div class="btn" style="left:1809px;top:715.55px;width:32px;background:#ff3a6e"><svg class="i" style="left:9.3px;top:8.2px" width="14" height="14" viewBox="0 0 24 24" stroke-width="2.1"><path d="M4 7l16 0"/><path d="M10 11l0 6"/><path d="M14 11l0 6"/><path d="M5 7l1 12a2 2 0 0 0 2 2h8a2 2 0 0 0 2 -2l1 -12"/><path d="M9 7v-3a1 1 0 0 1 1 -1h4a1 1 0 0 1 1 1v3"/></svg></div>
<div class="abs" style="left:310px;top:763px;width:1555px;height:1px;background:#ececec"></div>
<div class="abs td" style="left:336px;top:789.6px">5</div>
<div class="abs badge" style="left:436px;top:775.4px">#RENTALO000002</div>
<div class="abs td" style="left:814.5px;top:789.6px;letter-spacing:0.45px">Juliet May</div>
<div class="abs td" style="left:1071px;top:789.6px">Week</div>
<div class="abs td" style="left:1215px;top:789.6px">2025-02-21</div>
<div class="abs td" style="left:1442.5px;top:789.6px">2025-02-28</div>
<div class="btn" style="left:1646px;top:781.4px;width:33px;background:#6fd943"><svg class="i" style="left:0;top:0" width="33" height="31" viewBox="0 0 33 31" stroke-width="1.25"><circle cx="12.4" cy="19.4" r="1.45"/><circle cx="21" cy="11.6" r="1.45"/><path d="M12.4 17.9V15.2Q12.4 11.4 16 11.4"/><path d="M21 13.1V15.8Q21 19.4 17.4 19.4"/><path d="M15.6 9.3L17.9 11.4L15.6 13.5Z" fill="#fff"/><path d="M17.8 17.3L15.5 19.4L17.8 21.5Z" fill="#fff"/></svg></div>
<div class="btn" style="left:1687px;top:781.4px;width:32px;background:#6c757d"><svg class="i" style="left:9.3px;top:8.2px" width="14" height="14" viewBox="0 0 24 24" stroke-width="2.1"><path d="M8 10.5a2.5 2.5 0 0 1 2.5 -2.5h7a2.5 2.5 0 0 1 2.5 2.5v7a2.5 2.5 0 0 1 -2.5 2.5h-7a2.5 2.5 0 0 1 -2.5 -2.5z"/><path d="M16 8v-1.5a2.5 2.5 0 0 0 -2.5 -2.5h-7a2.5 2.5 0 0 0 -2.5 2.5v7a2.5 2.5 0 0 0 2.5 2.5h1.5"/></svg></div>
<div class="btn" style="left:1728px;top:781.4px;width:32px;background:#ffa21d"><svg class="i" style="left:9.3px;top:8.2px" width="14" height="14" viewBox="0 0 24 24" stroke-width="2.1"><path d="M10 12a2 2 0 1 0 4 0a2 2 0 0 0 -4 0"/><path d="M21 12c-2.4 4 -5.4 6 -9 6c-3.6 0 -6.6 -2 -9 -6c2.4 -4 5.4 -6 9 -6c3.6 0 6.6 2 9 6"/></svg></div>
<div class="btn" style="left:1768px;top:781.4px;width:32px;background:#3ec9d6"><svg class="i" style="left:9.3px;top:8.2px" width="14" height="14" viewBox="0 0 24 24" stroke-width="2.1"><path d="M4 20h4l10.5 -10.5a2.828 2.828 0 1 0 -4 -4l-10.5 10.5v4"/></svg></div>
<div class="btn" style="left:1809px;top:781.4px;width:32px;background:#ff3a6e"><svg class="i" style="left:9.3px;top:8.2px" width="14" height="14" viewBox="0 0 24 24" stroke-width="2.1"><path d="M4 7l16 0"/><path d="M10 11l0 6"/><path d="M14 11l0 6"/><path d="M5 7l1 12a2 2 0 0 0 2 2h8a2 2 0 0 0 2 -2l1 -12"/><path d="M9 7v-3a1 1 0 0 1 1 -1h4a1 1 0 0 1 1 1v3"/></svg></div>
<div class="abs" style="left:310px;top:829px;width:1555px;height:1px;background:#ececec"></div>
<div class="abs td" style="left:336px;top:855.45px">6</div>
<div class="abs badge" style="left:436px;top:841.25px">#RENTALO000001</div>
<div class="abs td" style="left:814.5px;top:855.45px;letter-spacing:0.45px">Whitney Barrett</div>
<div class="abs td" style="left:1071px;top:855.45px">Day</div>
<div class="abs td" style="left:1215px;top:855.45px">2025-02-21</div>
<div class="abs td" style="left:1442.5px;top:855.45px">2025-02-21</div>
<div class="btn" style="left:1646px;top:847.25px;width:33px;background:#6fd943"><svg class="i" style="left:0;top:0" width="33" height="31" viewBox="0 0 33 31" stroke-width="1.25"><circle cx="12.4" cy="19.4" r="1.45"/><circle cx="21" cy="11.6" r="1.45"/><path d="M12.4 17.9V15.2Q12.4 11.4 16 11.4"/><path d="M21 13.1V15.8Q21 19.4 17.4 19.4"/><path d="M15.6 9.3L17.9 11.4L15.6 13.5Z" fill="#fff"/><path d="M17.8 17.3L15.5 19.4L17.8 21.5Z" fill="#fff"/></svg></div>
<div class="btn" style="left:1687px;top:847.25px;width:32px;background:#6c757d"><svg class="i" style="left:9.3px;top:8.2px" width="14" height="14" viewBox="0 0 24 24" stroke-width="2.1"><path d="M8 10.5a2.5 2.5 0 0 1 2.5 -2.5h7a2.5 2.5 0 0 1 2.5 2.5v7a2.5 2.5 0 0 1 -2.5 2.5h-7a2.5 2.5 0 0 1 -2.5 -2.5z"/><path d="M16 8v-1.5a2.5 2.5 0 0 0 -2.5 -2.5h-7a2.5 2.5 0 0 0 -2.5 2.5v7a2.5 2.5 0 0 0 2.5 2.5h1.5"/></svg></div>
<div class="btn" style="left:1728px;top:847.25px;width:32px;background:#ffa21d"><svg class="i" style="left:9.3px;top:8.2px" width="14" height="14" viewBox="0 0 24 24" stroke-width="2.1"><path d="M10 12a2 2 0 1 0 4 0a2 2 0 0 0 -4 0"/><path d="M21 12c-2.4 4 -5.4 6 -9 6c-3.6 0 -6.6 -2 -9 -6c2.4 -4 5.4 -6 9 -6c3.6 0 6.6 2 9 6"/></svg></div>
<div class="btn" style="left:1768px;top:847.25px;width:32px;background:#3ec9d6"><svg class="i" style="left:9.3px;top:8.2px" width="14" height="14" viewBox="0 0 24 24" stroke-width="2.1"><path d="M4 20h4l10.5 -10.5a2.828 2.828 0 1 0 -4 -4l-10.5 10.5v4"/></svg></div>
<div class="btn" style="left:1809px;top:847.25px;width:32px;background:#ff3a6e"><svg class="i" style="left:9.3px;top:8.2px" width="14" height="14" viewBox="0 0 24 24" stroke-width="2.1"><path d="M4 7l16 0"/><path d="M10 11l0 6"/><path d="M14 11l0 6"/><path d="M5 7l1 12a2 2 0 0 0 2 2h8a2 2 0 0 0 2 -2l1 -12"/><path d="M9 7v-3a1 1 0 0 1 1 -1h4a1 1 0 0 1 1 1v3"/></svg></div>
<div class="abs" style="left:310px;top:894px;width:1555px;height:1px;background:#ececec"></div>
<div class="abs td" style="left:310px;top:940.6px;letter-spacing:0.32px">Showing 1 to 6 of 6 entries</div>
<div class="abs" style="left:1747px;top:928px;width:118px;height:38px;border:1px solid #d6dbe1;border-radius:9px;background:#fff"></div>
<div class="abs" style="left:1789px;top:928px;width:35px;height:38px;background:#0caf60;color:#fff;font-size:14px;line-height:38px;text-align:center">1</div>
<svg class="abs i" style="left:1762px;top:941px;color:#4b5565" width="12" height="12" viewBox="0 0 12 12" stroke-width="1.1"><path d="M7.8 2.3L4.2 6L7.8 9.7"/></svg>
<svg class="abs i" style="left:1838px;top:941px;color:#4b5565" width="12" height="12" viewBox="0 0 12 12" stroke-width="1.1"><path d="M4.2 2.3L7.8 6L4.2 9.7"/></svg>
<!--/MAIN-->
</body></html>
